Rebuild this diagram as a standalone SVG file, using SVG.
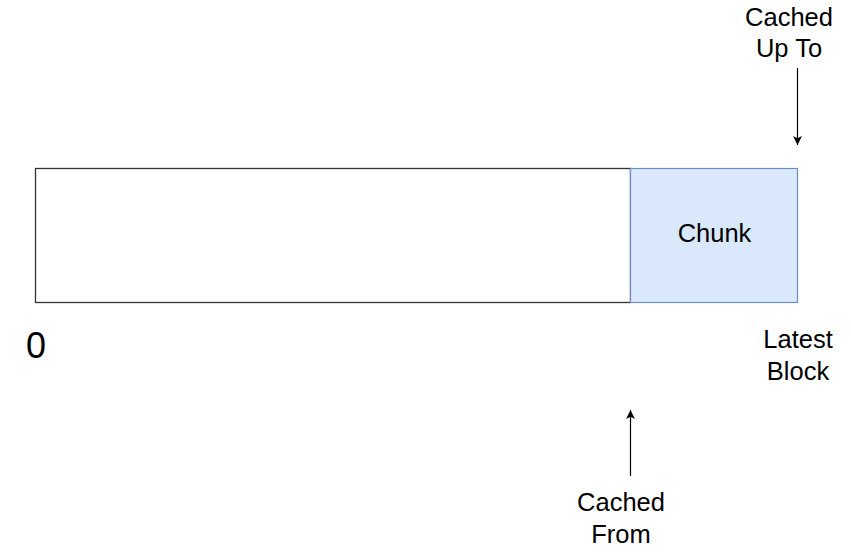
<svg xmlns="http://www.w3.org/2000/svg" width="851" height="554" viewBox="0 0 851 554">
<defs>
<style>
text{font-family:"Liberation Sans",Arial,sans-serif;fill:#000;text-anchor:middle;font-size:25.5px}
.conn{stroke:#000;stroke-width:1.2;fill:none}
</style>
<marker id="ah" viewBox="0 0 10 10" refX="10" refY="5" markerWidth="9" markerHeight="9" markerUnits="userSpaceOnUse" orient="auto">
<path d="M0,0 L10,5 L0,10 L2.5,5 Z" fill="#000"/>
</marker>
</defs>
<rect width="851" height="554" fill="#fff"/>
<g id="range">
<rect x="35.5" y="168.5" width="595" height="134" fill="#fff" stroke="#333" stroke-width="1.3"/>
</g>
<g id="chunk">
<rect x="630.5" y="168.5" width="167" height="134" fill="#dae8fc" stroke="#6c8ebf" stroke-width="1.2"/>
<text x="714.5" y="242">Chunk</text>
</g>
<g id="zero"><text x="36" y="358" style="font-size:36px">0</text></g>
<g id="cachedUpTo"><text x="789" y="26">Cached</text><text x="789" y="57">Up To</text></g>
<g id="latestBlock"><text x="798" y="348">Latest</text><text x="798" y="380">Block</text></g>
<g id="cachedFrom"><text x="621" y="511">Cached</text><text x="621" y="543">From</text></g>
<g id="connectors">
<line class="conn" x1="797.5" y1="68" x2="797.5" y2="145" marker-end="url(#ah)"/>
<line class="conn" x1="630.5" y1="476" x2="630.5" y2="410" marker-end="url(#ah)"/>
</g>
</svg>
